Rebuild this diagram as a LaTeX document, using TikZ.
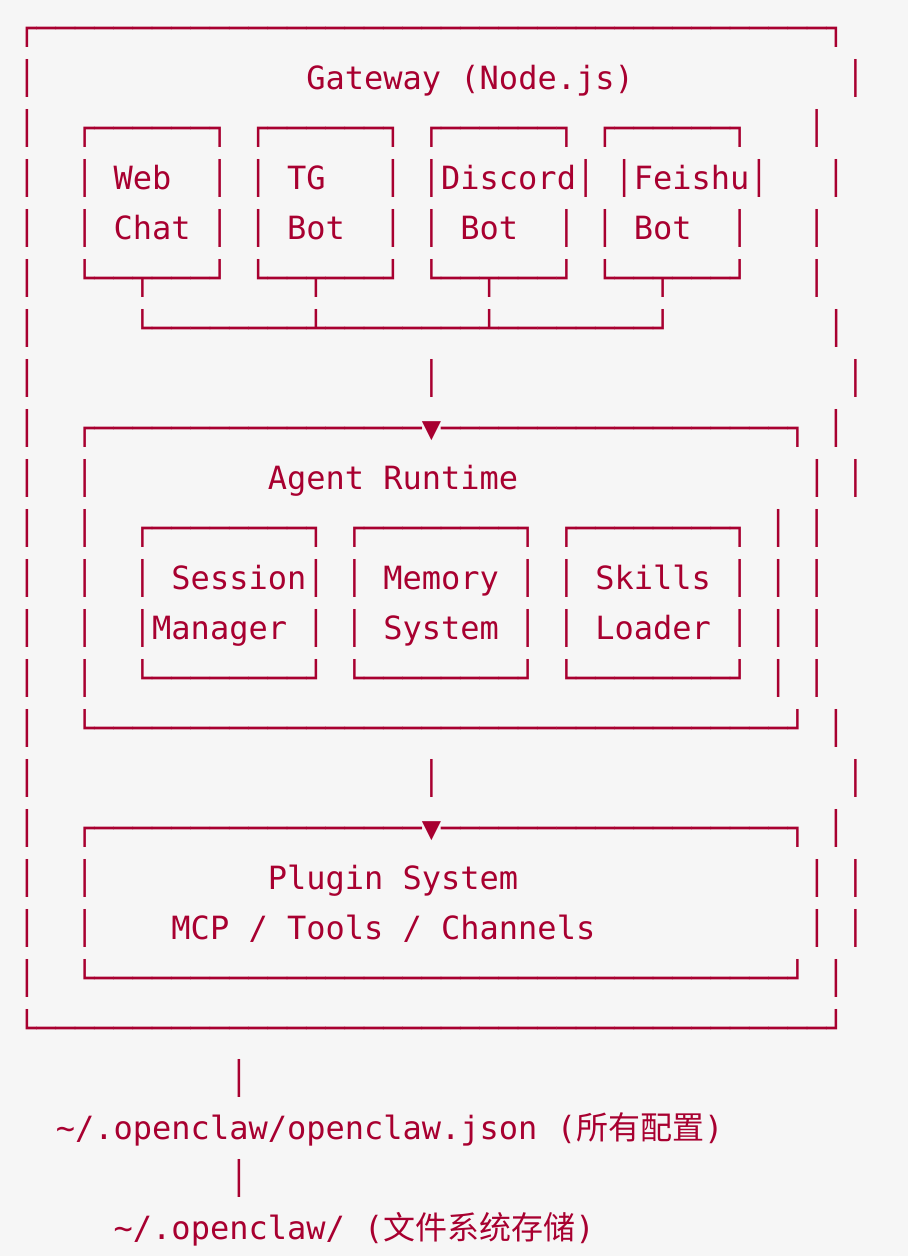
\documentclass[tikz,border=0pt]{standalone}
\usepackage{fontspec}
\newfontfamily\mono{DejaVu Sans Mono}
\newfontfamily\cjk{Noto Sans CJK SC}
\definecolor{ink}{RGB}{168,0,48}
\definecolor{paper}{RGB}{246,246,246}
\ExplSyntaxOn
\cs_new:Npn \Rep #1#2 { \prg_replicate:nn {#1} {#2} }
\cs_new:Npn \Bl #1 { \prg_replicate:nn {#1} { \nobreakspace } }
\ExplSyntaxOff
\tikzset{asciirow/.style={anchor=base west, inner sep=0pt, outer sep=0pt, text=ink, font=\mono\fontsize{32}{50}\selectfont}}
\begin{document}
\begin{tikzpicture}
\fill[paper] (0,0) rectangle (908pt,-1256pt);
\useasboundingbox (0,0) rectangle (908pt,-1256pt);
\node[asciirow] (r0)  at (17.37pt,-39.3pt)   {┌\Rep{41}{─}┐};
\node[asciirow] (r1)  at (17.37pt,-89.3pt)   {│\Bl{14}Gateway\Bl{1}(Node.js)\Bl{11}│};
\node[asciirow] (r2)  at (17.37pt,-139.3pt)  {│\Bl{2}┌\Rep{6}{─}┐\Bl{1}┌\Rep{6}{─}┐\Bl{1}┌\Rep{6}{─}┐\Bl{1}┌\Rep{6}{─}┐\Bl{3}│};
\node[asciirow] (r3)  at (17.37pt,-189.3pt)  {│\Bl{2}│\Bl{1}Web\Bl{2}│\Bl{1}│\Bl{1}TG\Bl{3}│\Bl{1}│Discord│\Bl{1}│Feishu│\Bl{3}│};
\node[asciirow] (r4)  at (17.37pt,-239.3pt)  {│\Bl{2}│\Bl{1}Chat\Bl{1}│\Bl{1}│\Bl{1}Bot\Bl{2}│\Bl{1}│\Bl{1}Bot\Bl{2}│\Bl{1}│\Bl{1}Bot\Bl{2}│\Bl{3}│};
\node[asciirow] (r5)  at (17.37pt,-289.3pt)  {│\Bl{2}└──┬───┘\Bl{1}└──┬───┘\Bl{1}└──┬───┘\Bl{1}└──┬───┘\Bl{3}│};
\node[asciirow] (r6)  at (17.37pt,-339.3pt)  {│\Bl{5}└\Rep{8}{─}┴\Rep{8}{─}┴\Rep{8}{─}┘\Bl{8}│};
\node[asciirow] (r7)  at (17.37pt,-389.3pt)  {│\Bl{20}│\Bl{21}│};
\node[asciirow] (r8)  at (17.37pt,-439.3pt)  {│\Bl{2}┌\Rep{17}{─}▼\Rep{18}{─}┐\Bl{1}│};
\node[asciirow] (r9)  at (17.37pt,-489.3pt)  {│\Bl{2}│\Bl{9}Agent\Bl{1}Runtime\Bl{15}│\Bl{1}│};
\node[asciirow] (r10) at (17.37pt,-539.3pt)  {│\Bl{2}│\Bl{2}┌\Rep{8}{─}┐\Bl{1}┌\Rep{8}{─}┐\Bl{1}┌\Rep{8}{─}┐\Bl{1}│\Bl{1}│};
\node[asciirow] (r11) at (17.37pt,-589.3pt)  {│\Bl{2}│\Bl{2}│\Bl{1}Session│\Bl{1}│\Bl{1}Memory\Bl{1}│\Bl{1}│\Bl{1}Skills\Bl{1}│\Bl{1}│\Bl{1}│};
\node[asciirow] (r12) at (17.37pt,-639.3pt)  {│\Bl{2}│\Bl{2}│Manager\Bl{1}│\Bl{1}│\Bl{1}System\Bl{1}│\Bl{1}│\Bl{1}Loader\Bl{1}│\Bl{1}│\Bl{1}│};
\node[asciirow] (r13) at (17.37pt,-689.3pt)  {│\Bl{2}│\Bl{2}└\Rep{8}{─}┘\Bl{1}└\Rep{8}{─}┘\Bl{1}└\Rep{8}{─}┘\Bl{1}│\Bl{1}│};
\node[asciirow] (r14) at (17.37pt,-739.3pt)  {│\Bl{2}└\Rep{36}{─}┘\Bl{1}│};
\node[asciirow] (r15) at (17.37pt,-789.3pt)  {│\Bl{20}│\Bl{21}│};
\node[asciirow] (r16) at (17.37pt,-839.3pt)  {│\Bl{2}┌\Rep{17}{─}▼\Rep{18}{─}┐\Bl{1}│};
\node[asciirow] (r17) at (17.37pt,-889.3pt)  {│\Bl{2}│\Bl{9}Plugin\Bl{1}System\Bl{15}│\Bl{1}│};
\node[asciirow] (r18) at (17.37pt,-939.3pt)  {│\Bl{2}│\Bl{4}MCP\Bl{1}/\Bl{1}Tools\Bl{1}/\Bl{1}Channels\Bl{11}│\Bl{1}│};
\node[asciirow] (r19) at (17.37pt,-989.3pt)  {│\Bl{2}└\Rep{36}{─}┘\Bl{1}│};
\node[asciirow] (r20) at (17.37pt,-1039.3pt) {└\Rep{41}{─}┘};
\node[asciirow] (r21) at (17.37pt,-1089.3pt) {\Bl{11}│};
\node[asciirow] (r22) at (17.37pt,-1139.3pt) {\Bl{2}\textasciitilde/.openclaw/openclaw.json\Bl{1}({\cjk 所有配置})};
\node[asciirow] (r23) at (17.37pt,-1189.3pt) {\Bl{11}│};
\node[asciirow] (r24) at (17.37pt,-1239.3pt) {\Bl{5}\textasciitilde/.openclaw/\Bl{1}({\cjk 文件系统存储})};
\end{tikzpicture}
\end{document}
